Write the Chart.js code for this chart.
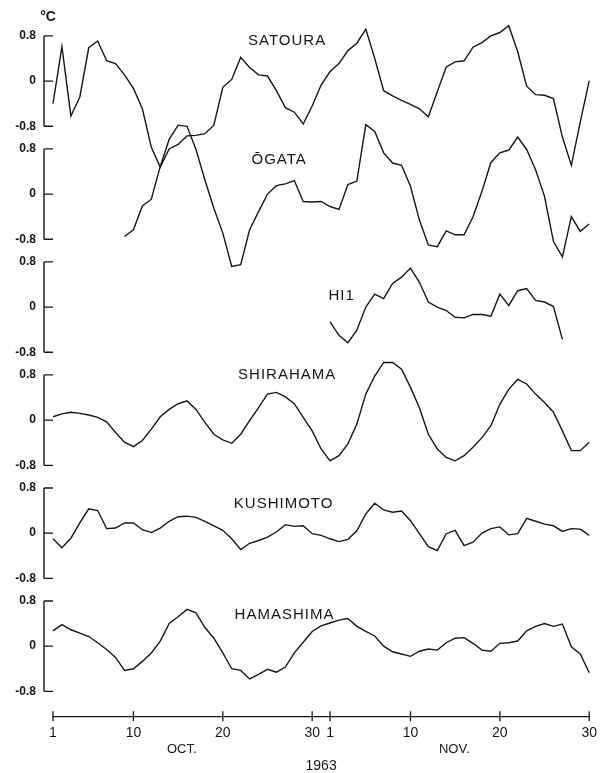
<!DOCTYPE html>
<html>
<head>
<meta charset="utf-8">
<script src="https://cdn.jsdelivr.net/npm/chart.js"></script>
<style>
  html, body { margin: 0; padding: 0; background: #ffffff; }
  #c { display: block; }
</style>
</head>
<body>
<canvas id="c" width="606" height="773"></canvas>
<script>
// ---------------- DATA ----------------
// day index 0 = 1 Oct 1963 ... 60 = 30 Nov 1963
const dayIndex = Array.from({length: 61}, (_, i) => i);
const tickDays   = [0, 9, 19, 29, 31, 40, 50, 60];
const tickLabels = ['1', '10', '20', '30', '1', '10', '20', '30'];
const monthLabels = ['OCT.', 'NOV.'];
const yearLabel = '1963';
const unitLabel = '°C';
const stations = ['SATOURA', 'ŌGATA', 'HI1', 'SHIRAHAMA', 'KUSHIMOTO', 'HAMASHIMA'];
const yTicks = [0.8, 0, -0.8];
const yTickLabels = ['0.8', '0', '-0.8'];

const satoura = [-0.40, 0.61, -0.62, -0.28, 0.59, 0.71, 0.36, 0.31, 0.11, -0.13,
  -0.49, -1.17, -1.52, -1.20, -1.12, -0.97, -0.96, -0.93, -0.78, -0.11,
  0.03, 0.42, 0.24, 0.11, 0.09, -0.17, -0.47, -0.55, -0.76, -0.44,
  -0.07, 0.17, 0.31, 0.54, 0.67, 0.92, 0.40, -0.17, -0.26, -0.34,
  -0.41, -0.49, -0.63, -0.19, 0.25, 0.34, 0.36, 0.60, 0.68, 0.80,
  0.86, 0.98, 0.52, -0.09, -0.24, -0.25, -0.31, -0.99, -1.49, -0.72, 0.01];

const ogata = [null, null, null, null, null, null, null, null, -0.75, -0.63,
  -0.21, -0.09, 0.49, 0.97, 1.22, 1.20, 0.79, 0.25, -0.25, -0.69,
  -1.28, -1.25, -0.63, -0.31, 0.00, 0.15, 0.18, 0.24, -0.13, -0.14,
  -0.13, -0.22, -0.27, 0.17, 0.23, 1.23, 1.11, 0.73, 0.55, 0.51,
  0.14, -0.46, -0.90, -0.93, -0.65, -0.72, -0.72, -0.40, 0.05, 0.56,
  0.73, 0.78, 1.01, 0.79, 0.43, -0.04, -0.84, -1.11, -0.40, -0.66, -0.53];

const hii = [null, null, null, null, null, null, null, null, null, null,
  null, null, null, null, null, null, null, null, null, null,
  null, null, null, null, null, null, null, null, null, null,
  null, -0.26, -0.50, -0.63, -0.41, 0.00, 0.23, 0.15, 0.42, 0.53,
  0.69, 0.44, 0.09, 0.00, -0.06, -0.18, -0.19, -0.13, -0.13, -0.16,
  0.23, 0.03, 0.29, 0.33, 0.12, 0.09, 0.01, -0.57, null, null, null];

const shirahama = [0.06, 0.11, 0.14, 0.12, 0.09, 0.05, -0.03, -0.22, -0.39, -0.47,
  -0.36, -0.16, 0.06, 0.19, 0.29, 0.34, 0.19, -0.04, -0.25, -0.35,
  -0.41, -0.25, -0.01, 0.22, 0.46, 0.49, 0.41, 0.29, 0.05, -0.19,
  -0.51, -0.72, -0.63, -0.42, -0.07, 0.46, 0.78, 1.02, 1.02, 0.90,
  0.58, 0.22, -0.25, -0.51, -0.66, -0.72, -0.63, -0.48, -0.31, -0.10,
  0.28, 0.55, 0.72, 0.64, 0.46, 0.31, 0.14, -0.19, -0.54, -0.54, -0.39];

const kushimoto = [-0.10, -0.26, -0.09, 0.18, 0.43, 0.40, 0.08, 0.09, 0.18, 0.18,
  0.06, 0.01, 0.09, 0.21, 0.29, 0.30, 0.28, 0.21, 0.13, 0.05,
  -0.10, -0.29, -0.18, -0.13, -0.07, 0.02, 0.15, 0.12, 0.13, -0.01,
  -0.04, -0.10, -0.15, -0.11, 0.04, 0.34, 0.53, 0.41, 0.37, 0.39,
  0.22, -0.01, -0.24, -0.31, -0.01, 0.05, -0.22, -0.16, 0.00, 0.08,
  0.11, -0.03, -0.01, 0.26, 0.21, 0.16, 0.13, 0.03, 0.08, 0.07, -0.04];

const hamashima = [0.27, 0.38, 0.29, 0.23, 0.17, 0.06, -0.06, -0.20, -0.43, -0.40,
  -0.27, -0.12, 0.09, 0.40, 0.52, 0.65, 0.59, 0.33, 0.14, -0.12,
  -0.40, -0.43, -0.58, -0.50, -0.41, -0.46, -0.37, -0.12, 0.07, 0.26,
  0.36, 0.41, 0.46, 0.49, 0.35, 0.26, 0.18, 0.00, -0.10, -0.14,
  -0.18, -0.09, -0.05, -0.07, 0.06, 0.14, 0.15, 0.05, -0.07, -0.09,
  0.05, 0.06, 0.09, 0.27, 0.35, 0.40, 0.35, 0.39, -0.01, -0.14, -0.47];

const series = [satoura, ogata, hii, shirahama, kushimoto, hamashima];

// ---------------- LAYOUT (positions / styles) ----------------
const PANEL_PITCH = 2.0;   // °C between successive panel zero lines
const TOP_MARGIN = 1.0;    // °C above the first zero line
const SPAN = 12.24;        // °C covered by the full plot height
const labelAnchor = [      // [day, value] of station name centres
  [26.2, 0.71], [25.3, 0.60], [32.3, 0.20], [26.2, 0.80], [25.8, 0.52], [25.9, 0.56]
];
const monthAnchor = [14.4, 44.9];
const INK = '#161616';
const FONT = '"Liberation Sans", Arial, sans-serif';

const yScales = {};
series.forEach((_, k) => {
  const max = TOP_MARGIN + PANEL_PITCH * k;
  yScales['y' + k] = { type: 'linear', display: false, min: max - SPAN, max: max };
});

const decor = {
  id: 'decor',
  afterDraw(chart) {
    const ctx = chart.ctx;
    const xs = chart.scales.x;
    const area = chart.chartArea;
    const axisX = area.left - 9;
    ctx.save();
    ctx.strokeStyle = INK;
    ctx.fillStyle = INK;
    ctx.lineWidth = 1.4;
    stations.forEach((name, k) => {
      const ys = chart.scales['y' + k];
      const pTop = ys.getPixelForValue(yTicks[0]);
      const pBot = ys.getPixelForValue(yTicks[yTicks.length - 1]);
      ctx.beginPath();
      ctx.moveTo(axisX, pTop);
      ctx.lineTo(axisX, pBot);
      yTicks.forEach(v => {
        const p = ys.getPixelForValue(v);
        ctx.moveTo(axisX, p);
        ctx.lineTo(area.left, p);
      });
      ctx.stroke();
      ctx.font = 'bold 12px ' + FONT;
      ctx.textAlign = 'right';
      ctx.textBaseline = 'middle';
      yTicks.forEach((v, i) => ctx.fillText(yTickLabels[i], axisX - 8, ys.getPixelForValue(v)));
      ctx.font = '15px ' + FONT;
      ctx.textAlign = 'center';
      ctx.letterSpacing = '1px';
      ctx.fillText(name, xs.getPixelForValue(labelAnchor[k][0]), ys.getPixelForValue(labelAnchor[k][1]));
      ctx.letterSpacing = '0px';
    });
    // unit label above first axis
    const y0 = chart.scales.y0;
    ctx.font = 'bold 14px ' + FONT;
    ctx.textAlign = 'center';
    ctx.fillText(unitLabel, axisX + 4, y0.getPixelForValue(yTicks[0]) - 19);
    // x-axis crossing tick marks
    ctx.lineWidth = 1.3;
    ctx.beginPath();
    tickDays.forEach(d => {
      const px = xs.getPixelForValue(d);
      ctx.moveTo(px, area.bottom - 5);
      ctx.lineTo(px, area.bottom + 5);
    });
    ctx.stroke();
    // month names
    ctx.font = '13px ' + FONT;
    ctx.textAlign = 'center';
    monthLabels.forEach((m, i) => ctx.fillText(m, xs.getPixelForValue(monthAnchor[i]), area.bottom + 33));
    ctx.restore();
  }
};

new Chart(document.getElementById('c'), {
  type: 'line',
  data: {
    datasets: series.map((arr, k) => ({
      label: stations[k],
      data: dayIndex.map(i => ({x: i, y: arr[i]})),
      yAxisID: 'y' + k,
      borderColor: INK,
      borderWidth: 1.4,
      pointRadius: 0,
      tension: 0,
      fill: false,
      spanGaps: false,
      clip: false
    }))
  },
  options: {
    responsive: false,
    animation: false,
    devicePixelRatio: 1,
    layout: { padding: { left: 53, right: 13, top: 24.6, bottom: 0 } },
    plugins: { legend: { display: false }, tooltip: { enabled: false } },
    scales: Object.assign({
      x: {
        type: 'linear',
        min: 0,
        max: 60,
        afterBuildTicks: s => { s.ticks = tickDays.map(v => ({ value: v })); },
        grid: { display: false, drawTicks: false },
        border: { display: true, color: INK, width: 1.3 },
        ticks: {
          autoSkip: false,
          maxRotation: 0,
          padding: 9,
          color: INK,
          font: { family: FONT, size: 14 },
          callback: (v, i) => tickLabels[i]
        },
        title: {
          display: true,
          text: yearLabel,
          color: INK,
          font: { family: FONT, size: 14, lineHeight: 1.0 },
          padding: { top: 8, bottom: 0 }
        }
      }
    }, yScales)
  },
  plugins: [decor]
});
</script>
</body>
</html>
